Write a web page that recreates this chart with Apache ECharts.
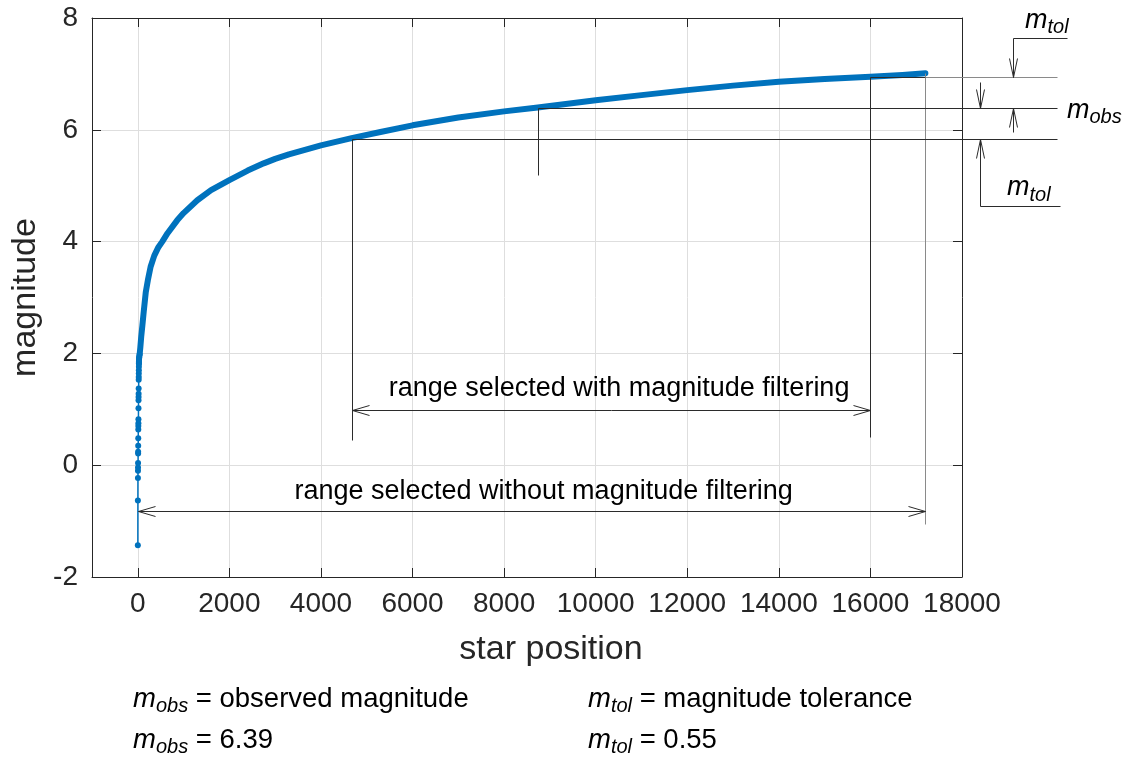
<!DOCTYPE html>
<html><head><meta charset="utf-8">
<script src="https://cdn.jsdelivr.net/npm/echarts@6/dist/echarts.min.js"></script>
<style>html,body{margin:0;padding:0;background:#fff}#c{width:1129px;height:758px}</style>
</head><body><div id="c"></div>
<script>
// ---- data ----
const starPosition = [1,2,3,4,5,6,7,8,9,10,11,12,13,14,15,16,17,18,19,20,21,22,23,24,25,26,
  30,40,55,75,100,130,175,220,280,360,
  450,535,650,860,1000,1300,1600,2000,2400,2750,
  3000,3300,4000,4670,5300,6000,7000,8000,8735,10000,
  11000,12000,13000,14000,15000,16000,16700,17200];
const starMagnitude = [-1.43,-0.63,-0.23,-0.10,-0.04,0.04,0.21,0.24,0.35,0.48,0.64,0.70,0.75,0.82,1.02,1.16,1.22,1.28,1.37,1.53,1.58,1.64,1.70,1.76,1.82,1.88,
  1.93,1.98,2.10,2.30,2.50,2.75,3.10,3.31,3.55,3.75,
  3.90,4.00,4.15,4.38,4.51,4.74,4.92,5.10,5.27,5.40,
  5.48,5.56,5.72,5.85,5.96,6.08,6.22,6.33,6.40,6.53,
  6.62,6.71,6.79,6.86,6.91,6.95,6.98,7.01];
const xTicks = [0,2000,4000,6000,8000,10000,12000,14000,16000,18000];
const yTicks = [-2,0,2,4,6,8];
const mObs = 6.39;
const mTol = 0.55;
const xLow = 4670, xObs = 8735, xHigh = 16000, xEnd = 17200;
const sparseCount = 28;

const FONT = "'Liberation Sans', Arial, sans-serif";
const AX = '#262626';
const BLUE = '#0072BD';
const GRID = '#dedede';

const allPts = starPosition.map((x, i) => [x, starMagnitude[i]]);
const sparsePts = allPts.slice(0, sparseCount);
const densePts = allPts.slice(sparseCount - 4);

const baseX = {type:'value', min:-1000, max:18000, interval:1000, gridIndex:0};
const baseY = {type:'value', min:-2, max:8, interval:2, gridIndex:0};

const option = {
  backgroundColor:'#fff',
  animation:false,
  grid:{left:92, right:167, top:18, bottom:181, containLabel:false},
  xAxis:[
    Object.assign({}, baseX, {
      position:'bottom',
      axisLine:{show:true, onZero:false, lineStyle:{color:AX, width:1}},
      axisTick:{show:true, inside:true, length:9, customValues:xTicks, lineStyle:{color:AX}},
      axisLabel:{customValues:xTicks, fontSize:28, color:AX, margin:13, fontFamily:FONT,
                 formatter:v => String(v)},
      splitLine:{show:true, lineStyle:{color:GRID, width:1}},
      name:'star position', nameLocation:'middle', nameGap:56,
      nameTextStyle:{fontSize:34, color:AX, fontFamily:FONT, padding:[0,0,0,48]}
    }),
    Object.assign({}, baseX, {
      position:'top',
      axisLine:{show:true, onZero:false, lineStyle:{color:AX, width:1}},
      axisTick:{show:true, inside:true, length:9, customValues:xTicks, lineStyle:{color:AX}},
      axisLabel:{show:false}, splitLine:{show:false}
    })
  ],
  yAxis:[
    Object.assign({}, baseY, {
      position:'left',
      axisLine:{show:true, onZero:false, lineStyle:{color:AX, width:1}},
      axisTick:{show:true, inside:true, length:9, lineStyle:{color:AX}},
      axisLabel:{fontSize:28, color:AX, margin:14, fontFamily:FONT},
      splitLine:{show:true, lineStyle:{color:GRID, width:1}},
      name:'magnitude', nameLocation:'middle', nameGap:48,
      nameTextStyle:{fontSize:34, color:AX, fontFamily:FONT}
    }),
    Object.assign({}, baseY, {
      position:'right',
      axisLine:{show:true, onZero:false, lineStyle:{color:AX, width:1}},
      axisTick:{show:true, inside:true, length:9, lineStyle:{color:AX}},
      axisLabel:{show:false}, splitLine:{show:false}
    })
  ],
  series:[
    {type:'line', name:'dense', data:densePts, showSymbol:false, symbol:'none',
     lineStyle:{color:BLUE, width:6, cap:'round', join:'round'}, z:3, silent:true},
    {type:'line', name:'sparse', data:sparsePts, symbol:'circle', symbolSize:6, showSymbol:true,
     itemStyle:{color:BLUE}, lineStyle:{color:BLUE, width:1.5}, z:4, silent:true}
  ]
};

const chart = echarts.init(document.getElementById('c'), null, {renderer:'canvas'});
chart.setOption(option);

function P(x, y){ return chart.convertToPixel({xAxisIndex:0, yAxisIndex:0}, [x, y]); }
function py(y){ return P(0, y)[1]; }
function px(x){ return P(x, 0)[0]; }
const R = px(18000); // right edge of plot
const els = [];
const DARK = '#2b2b2b', GRAY = '#8a8a8a';
function ln(x1, y1, x2, y2, col){
  els.push({type:'line', silent:true, z:100,
    shape:{x1:Math.round(x1)+0.5, y1:Math.round(y1)+0.5, x2:Math.round(x2)+0.5, y2:Math.round(y2)+0.5},
    style:{stroke:col || DARK, lineWidth:1}});
}
function head(tx, ty, dir, len, hw){
  tx = Math.round(tx)+0.5; ty = Math.round(ty)+0.5;
  let pts;
  if (dir === 'left') pts = [[tx+len, ty-hw],[tx, ty],[tx+len, ty+hw]];
  else if (dir === 'right') pts = [[tx-len, ty-hw],[tx, ty],[tx-len, ty+hw]];
  else if (dir === 'down') pts = [[tx-hw, ty-len],[tx, ty],[tx+hw, ty-len]];
  else pts = [[tx-hw, ty+len],[tx, ty],[tx+hw, ty+len]];
  els.push({type:'polyline', silent:true, z:100, shape:{points:pts}, style:{stroke:DARK, fill:null, lineWidth:1}});
}
function sym(sub, rest, x, y, size, subSize, align){
  els.push({type:'text', silent:true, z:100, x:x, y:y,
    style:{text:'{m|m}{s|' + sub + '}' + (rest ? '{t|' + rest + '}' : ''),
      align:align || 'left', verticalAlign:'middle',
      rich:{
        m:{fontSize:size, fontStyle:'italic', fontFamily:FONT, fill:'#000', lineHeight:size+8},
        s:{fontSize:subSize, fontStyle:'italic', fontFamily:FONT, fill:'#000', lineHeight:subSize-4, verticalAlign:'bottom'},
        t:{fontSize:size, fontFamily:FONT, fill:'#000', lineHeight:size+8}
      }}});
}
function txt(s, x, y, size){
  els.push({type:'text', silent:true, z:100, x:x, y:y,
    style:{text:s, fontSize:size, fontFamily:FONT, fill:'#000', align:'center', verticalAlign:'middle'}});
}

const yLo = py(mObs - mTol), yOb = py(mObs), yHi = py(mObs + mTol);
const xl = px(xLow), xo = px(xObs), xh = px(xHigh), xe = px(xEnd);
// verticals
ln(xl, yLo, xl, py(0.45));
ln(xo, yOb, xo, py(5.19));
ln(xh, yHi, xh, py(0.50));
ln(xe, py(7.01), xe, py(-1.05), GRAY);
// horizontals to the right margin
const xOut = R + 95;
ln(xl, yLo, xOut, yLo);
ln(xo, yOb, xOut, yOb);
ln(xh, yHi, xe, yHi);
ln(xe, yHi, xOut, yHi, GRAY);
// range arrows
const yA1 = py(0.98), yA2 = py(-0.82);
ln(xl, yA1, xh, yA1); head(xl, yA1, 'left', 17, 5); head(xh, yA1, 'right', 17, 5);
const x0 = px(starPosition[0]);
ln(x0, yA2, xe, yA2); head(x0, yA2, 'left', 17, 5); head(xe, yA2, 'right', 17, 5);
txt('range selected with magnitude filtering', (xl + xh) / 2 + 8, py(1.38), 27);
txt('range selected without magnitude filtering', (x0 + xe) / 2 + 12, py(-0.47), 27);
// tolerance arrows
const X1 = R + 18, X2 = R + 51;
ln(X1, yOb - 26, X1, yOb); head(X1, yOb, 'down', 19, 4);
ln(X1, yLo, X1, yLo + 67); head(X1, yLo, 'up', 19, 4);
ln(X1, yLo + 67, X1 + 80, yLo + 67);
ln(X2, yHi - 39, X2, yHi); head(X2, yHi, 'down', 19, 4);
ln(X2, yOb, X2, yOb + 24); head(X2, yOb, 'up', 19, 4);
ln(X2, yHi - 39, X2 + 54, yHi - 39);
sym('tol', '', X2 + 12, yHi - 57, 27, 20);
sym('obs', '', R + 105, yOb + 2, 27, 20);
sym('tol', '', X1 + 27, yLo + 49, 27, 20);
// bottom legend text
sym('obs', ' = observed magnitude', 133, 699, 27.5, 20);
sym('obs', ' = 6.39', 133, 740, 27.5, 20);
sym('tol', ' = magnitude tolerance', 588, 699, 27.5, 20);
sym('tol', ' = 0.55', 588, 740, 27.5, 20);

chart.setOption({graphic:{elements:els}});
</script></body></html>
